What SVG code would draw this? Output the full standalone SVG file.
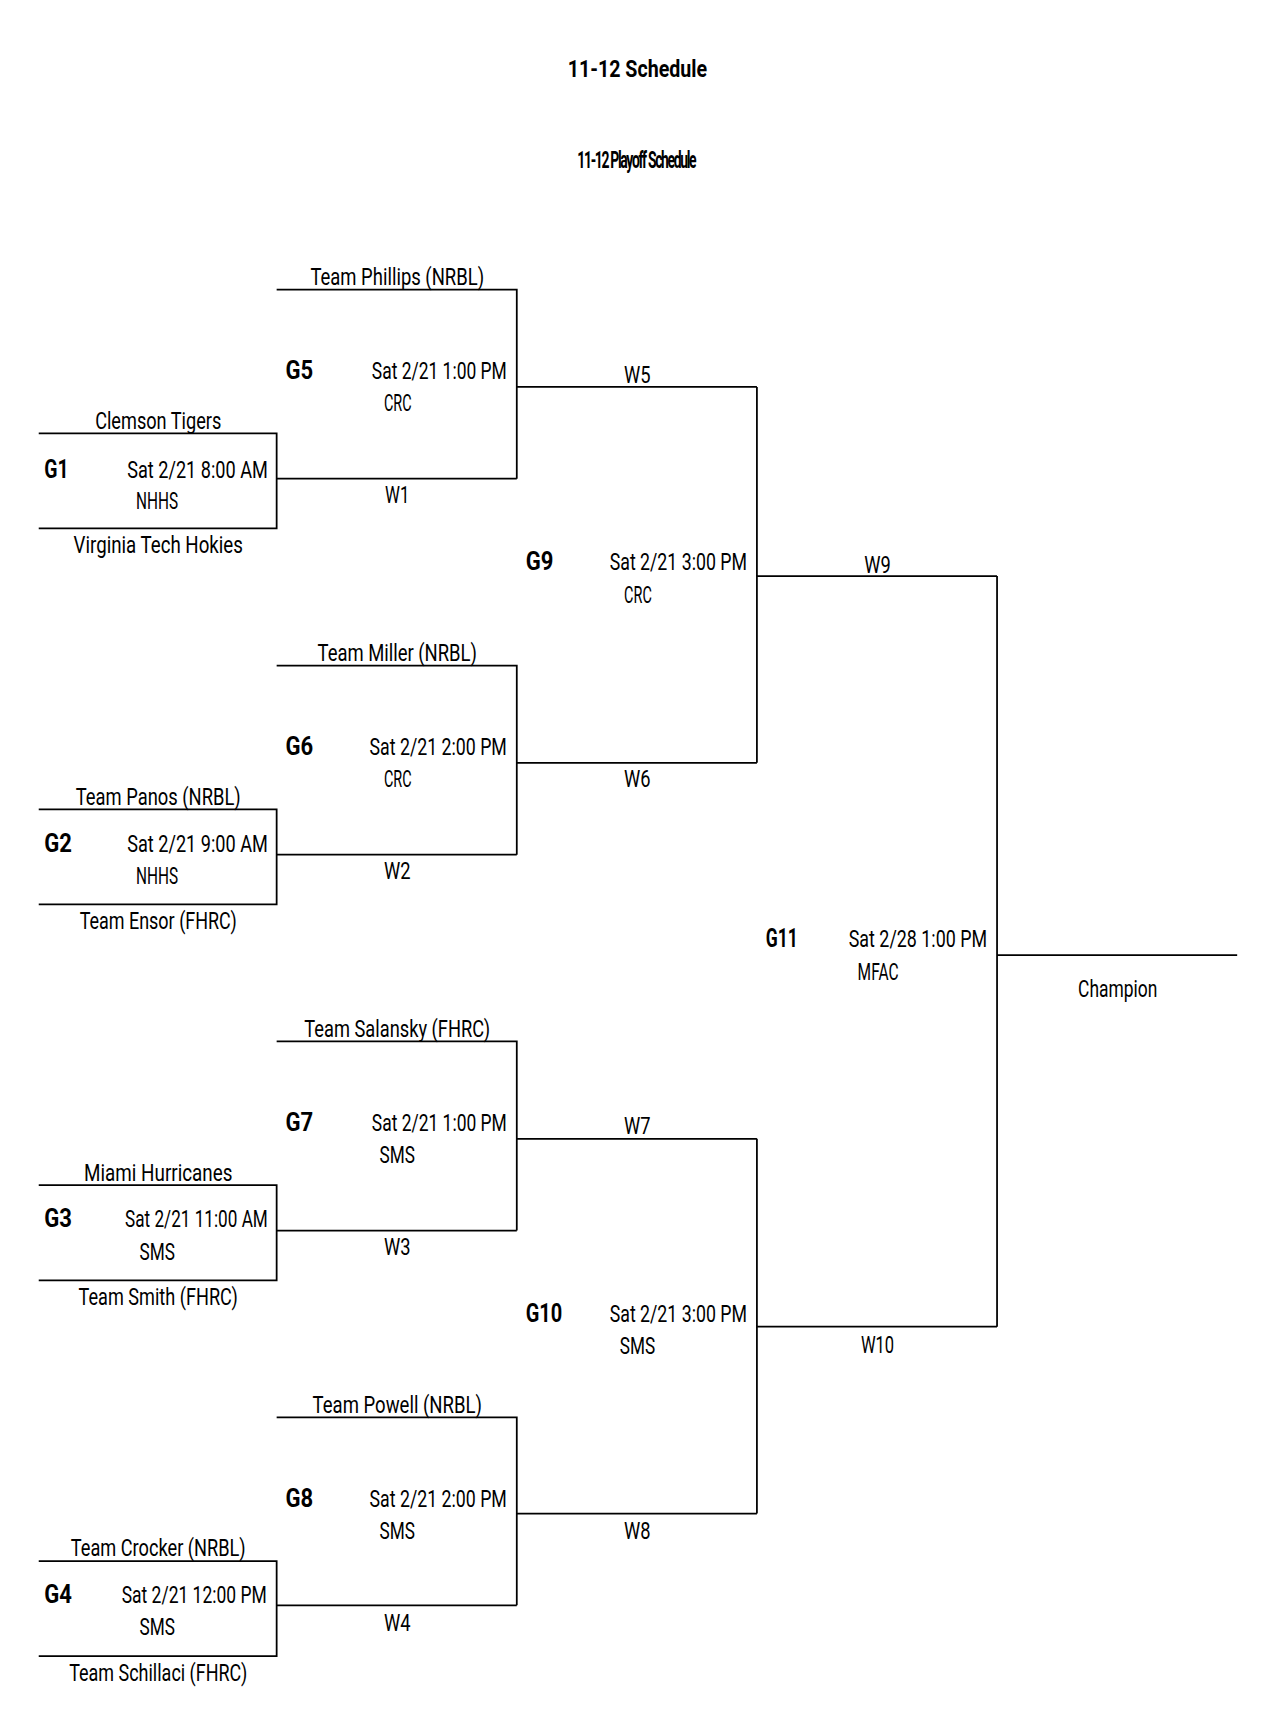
<svg xmlns="http://www.w3.org/2000/svg" width="1272" height="1735" viewBox="0 0 1272 1735">
<style>
text{font-family:Roboto,"Liberation Sans",sans-serif;fill:#000;font-size:21px}
.c{text-anchor:middle}
.b{font-weight:bold;font-size:23px}
.ln{stroke:#000;stroke-width:1.6;fill:none}
</style>
<rect width="1272" height="1735" fill="#fff"/>
<g transform="scale(1.1066 1.1056)">
<g id="title">
<text class="c" x="576" y="70" font-weight="bold" font-size="25" textLength="126" lengthAdjust="spacingAndGlyphs">11-12 Schedule</text>
<text class="c" transform="translate(575,152) scale(0.6,1)" font-weight="bold" font-size="50" letter-spacing="-2">11-12 Playoff Schedule</text>
</g>
<g id="connectors">
<path class="ln" d="M35 392H250V478H35M250 433H467M250 262H467V433M467 350H684"/>
<path class="ln" d="M35 732H250V818H35M250 773H467M250 602H467V773M467 690H684"/>
<path class="ln" d="M35 1072H250V1158H35M250 1113H467M250 942H467V1113M467 1030H684"/>
<path class="ln" d="M35 1412H250V1498H35M250 1452H467M250 1282H467V1452M467 1369H684"/>
<path class="ln" d="M684 350V690M684 521H901M684 1030V1369M684 1200H901M901 521V1200"/>
<path class="ln" d="M901 864H1118" stroke-width="3.5"/>
</g>
<g id="G1">
<text class="c" x="143" y="388" textLength="114" lengthAdjust="spacingAndGlyphs">Clemson Tigers</text>
<text class="b" x="40" y="432" textLength="22" lengthAdjust="spacingAndGlyphs">G1</text>
<text x="115" y="432" textLength="127" lengthAdjust="spacingAndGlyphs">Sat 2/21 8:00 AM</text>
<text x="123" y="460" textLength="38" lengthAdjust="spacingAndGlyphs">NHHS</text>
<text class="c" x="143" y="500" textLength="153" lengthAdjust="spacingAndGlyphs">Virginia Tech Hokies</text>
<text class="c" x="359" y="455" textLength="22" lengthAdjust="spacingAndGlyphs">W1</text>
</g>
<g id="G2">
<text class="c" x="143" y="728" textLength="149" lengthAdjust="spacingAndGlyphs">Team Panos (NRBL)</text>
<text class="b" x="40" y="771" textLength="25" lengthAdjust="spacingAndGlyphs">G2</text>
<text x="115" y="771" textLength="127" lengthAdjust="spacingAndGlyphs">Sat 2/21 9:00 AM</text>
<text x="123" y="800" textLength="38" lengthAdjust="spacingAndGlyphs">NHHS</text>
<text class="c" x="143" y="840" textLength="142" lengthAdjust="spacingAndGlyphs">Team Ensor (FHRC)</text>
<text class="c" x="359" y="795" textLength="24" lengthAdjust="spacingAndGlyphs">W2</text>
</g>
<g id="G3">
<text class="c" x="143" y="1068" textLength="134" lengthAdjust="spacingAndGlyphs">Miami Hurricanes</text>
<text class="b" x="40" y="1110" textLength="25" lengthAdjust="spacingAndGlyphs">G3</text>
<text x="113" y="1110" textLength="129" lengthAdjust="spacingAndGlyphs">Sat 2/21 11:00 AM</text>
<text x="126" y="1140" textLength="32" lengthAdjust="spacingAndGlyphs">SMS</text>
<text class="c" x="143" y="1180" textLength="144" lengthAdjust="spacingAndGlyphs">Team Smith (FHRC)</text>
<text class="c" x="359" y="1135" textLength="24" lengthAdjust="spacingAndGlyphs">W3</text>
</g>
<g id="G4">
<text class="c" x="143" y="1407" textLength="158" lengthAdjust="spacingAndGlyphs">Team Crocker (NRBL)</text>
<text class="b" x="40" y="1450" textLength="25" lengthAdjust="spacingAndGlyphs">G4</text>
<text x="110" y="1450" textLength="131" lengthAdjust="spacingAndGlyphs">Sat 2/21 12:00 PM</text>
<text x="126" y="1479" textLength="32" lengthAdjust="spacingAndGlyphs">SMS</text>
<text class="c" x="143" y="1520" textLength="161" lengthAdjust="spacingAndGlyphs">Team Schillaci (FHRC)</text>
<text class="c" x="359" y="1475" textLength="24" lengthAdjust="spacingAndGlyphs">W4</text>
</g>
<g id="G5">
<text class="c" x="359" y="258" textLength="157" lengthAdjust="spacingAndGlyphs">Team Phillips (NRBL)</text>
<text class="b" x="258" y="343" textLength="25" lengthAdjust="spacingAndGlyphs">G5</text>
<text x="336" y="343" textLength="122" lengthAdjust="spacingAndGlyphs">Sat 2/21 1:00 PM</text>
<text x="347" y="372" textLength="25" lengthAdjust="spacingAndGlyphs">CRC</text>
<text class="c" x="576" y="346" textLength="24" lengthAdjust="spacingAndGlyphs">W5</text>
</g>
<g id="G6">
<text class="c" x="359" y="598" textLength="144" lengthAdjust="spacingAndGlyphs">Team Miller (NRBL)</text>
<text class="b" x="258" y="683" textLength="25" lengthAdjust="spacingAndGlyphs">G6</text>
<text x="334" y="683" textLength="124" lengthAdjust="spacingAndGlyphs">Sat 2/21 2:00 PM</text>
<text x="347" y="712" textLength="25" lengthAdjust="spacingAndGlyphs">CRC</text>
<text class="c" x="576" y="712" textLength="24" lengthAdjust="spacingAndGlyphs">W6</text>
</g>
<g id="G7">
<text class="c" x="359" y="938" textLength="168" lengthAdjust="spacingAndGlyphs">Team Salansky (FHRC)</text>
<text class="b" x="258" y="1023" textLength="25" lengthAdjust="spacingAndGlyphs">G7</text>
<text x="336" y="1023" textLength="122" lengthAdjust="spacingAndGlyphs">Sat 2/21 1:00 PM</text>
<text x="343" y="1052" textLength="32" lengthAdjust="spacingAndGlyphs">SMS</text>
<text class="c" x="576" y="1026" textLength="24" lengthAdjust="spacingAndGlyphs">W7</text>
</g>
<g id="G8">
<text class="c" x="359" y="1278" textLength="153" lengthAdjust="spacingAndGlyphs">Team Powell (NRBL)</text>
<text class="b" x="258" y="1363" textLength="25" lengthAdjust="spacingAndGlyphs">G8</text>
<text x="334" y="1363" textLength="124" lengthAdjust="spacingAndGlyphs">Sat 2/21 2:00 PM</text>
<text x="343" y="1392" textLength="32" lengthAdjust="spacingAndGlyphs">SMS</text>
<text class="c" x="576" y="1392" textLength="24" lengthAdjust="spacingAndGlyphs">W8</text>
</g>
<g id="G9">
<text class="b" x="475" y="516" textLength="25" lengthAdjust="spacingAndGlyphs">G9</text>
<text x="551" y="516" textLength="124" lengthAdjust="spacingAndGlyphs">Sat 2/21 3:00 PM</text>
<text x="564" y="545" textLength="25" lengthAdjust="spacingAndGlyphs">CRC</text>
<text class="c" x="793" y="518" textLength="24" lengthAdjust="spacingAndGlyphs">W9</text>
</g>
<g id="G10">
<text class="b" x="475" y="1196" textLength="33" lengthAdjust="spacingAndGlyphs">G10</text>
<text x="551" y="1196" textLength="124" lengthAdjust="spacingAndGlyphs">Sat 2/21 3:00 PM</text>
<text x="560" y="1225" textLength="32" lengthAdjust="spacingAndGlyphs">SMS</text>
<text class="c" x="793" y="1224" textLength="30" lengthAdjust="spacingAndGlyphs">W10</text>
</g>
<g id="G11">
<text class="b" x="692" y="857" textLength="29" lengthAdjust="spacingAndGlyphs">G11</text>
<text x="767" y="857" textLength="125" lengthAdjust="spacingAndGlyphs">Sat 2/28 1:00 PM</text>
<text x="775" y="886" textLength="37" lengthAdjust="spacingAndGlyphs">MFAC</text>
</g>
<g id="champion">
<text class="c" transform="translate(1010,902) scale(0.75,1)" font-size="38">Champion</text>
</g>
</g>
</svg>
